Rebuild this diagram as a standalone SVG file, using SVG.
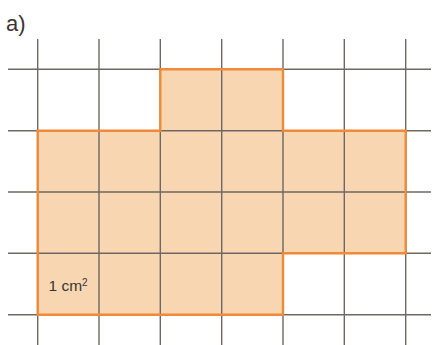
<svg xmlns="http://www.w3.org/2000/svg" width="433" height="345" viewBox="0 0 433 345">
<style>
.grid{stroke:#6e6862;stroke-width:1.4;fill:none}
.fill{fill:#f8d6b1;stroke:none}
.edge{fill:none;stroke:#ee8a38;stroke-width:2.4;stroke-linejoin:miter}
text{font-family:"Liberation Sans",Arial,sans-serif;fill:#3a3533}
</style>
<rect width="433" height="345" fill="#ffffff"/>
<text x="6" y="31" font-size="22">a)</text>
<g id="shape-fill">
<polygon class="fill" points="37.7,130.7 160.3,130.7 160.3,69.3 283,69.3 283,130.7 405.7,130.7 405.7,253.3 283,253.3 283,314.7 37.7,314.7"/>
</g>
<g id="grid">
<path class="grid" d="M37.7,39V345 M99,39V345 M160.3,39V345 M221.7,39V345 M283,39V345 M344.3,39V345 M405.7,39V345 M8,69.3H431 M8,130.7H431 M8,192H431 M8,253.3H431 M8,314.7H431"/>
</g>
<g id="shape-outline">
<polygon class="edge" points="37.7,130.7 160.3,130.7 160.3,69.3 283,69.3 283,130.7 405.7,130.7 405.7,253.3 283,253.3 283,314.7 37.7,314.7"/>
</g>
<text x="48.5" y="290.5" font-size="15.5">1 cm<tspan font-size="10" dy="-5">2</tspan></text>
</svg>
